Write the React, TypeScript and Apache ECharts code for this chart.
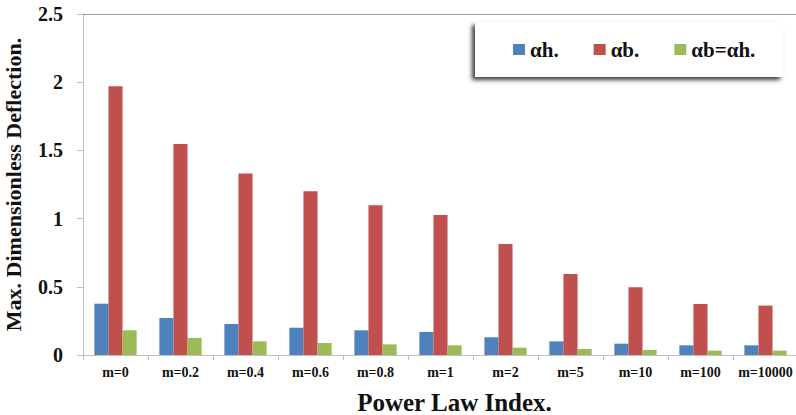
import React, { useEffect, useRef } from "react";
import * as echarts from "echarts";

const categories = ["m=0", "m=0.2", "m=0.4", "m=0.6", "m=0.8", "m=1", "m=2", "m=5", "m=10", "m=100", "m=10000"];
const alphaH = [0.376, 0.271, 0.227, 0.2, 0.181, 0.169, 0.13, 0.1, 0.083, 0.071, 0.071];
const alphaB = [1.97, 1.547, 1.33, 1.2, 1.097, 1.026, 0.814, 0.594, 0.496, 0.374, 0.362];
const alphaEqual = [0.181, 0.125, 0.1, 0.088, 0.078, 0.071, 0.054, 0.044, 0.037, 0.032, 0.032];
const seriesNames = ["\u03b1h.", "\u03b1b.", "\u03b1b=\u03b1h."];
const colors = ["#4F81BD", "#C0504D", "#9BBB59"];

const FONT = "Liberation Serif";

export default function App() {
  const ref = useRef<HTMLDivElement>(null);

  useEffect(() => {
    if (!ref.current) return;
    const chart = echarts.init(ref.current, undefined, { renderer: "svg" });
    const values = [alphaH, alphaB, alphaEqual];
    chart.setOption({
      animation: false,
      backgroundColor: "#ffffff",
      textStyle: { fontFamily: FONT },
      grid: { left: 83, right: -2, top: 14, bottom: 60, outerBoundsMode: "none", containLabel: false },
      legend: {
        left: 475,
        top: 22,
        data: seriesNames,
        icon: "rect",
        itemWidth: 12,
        itemHeight: 11,
        itemGap: 35,
        padding: [17, 28, 17, 38],
        backgroundColor: "#ffffff",
        borderWidth: 0,
        shadowColor: "rgba(0,0,0,0.75)",
        shadowBlur: 4,
        shadowOffsetX: -3,
        shadowOffsetY: 3,
        textStyle: { fontFamily: FONT, fontWeight: "bold", fontSize: 21, color: "#111" },
      },
      xAxis: [
        {
          type: "category",
          data: categories,
          name: "Power Law Index.",
          nameLocation: "middle",
          nameGap: 35,
          nameTextStyle: { fontFamily: FONT, fontWeight: "bold", fontSize: 25, color: "#111", padding: [0, 0, 0, 28] },
          axisLine: { lineStyle: { color: "#BFBFBF", width: 1 } },
          axisTick: { show: true, length: 5, lineStyle: { color: "#BFBFBF" } },
          axisLabel: { fontFamily: FONT, fontWeight: "bold", fontSize: 14, color: "#111", margin: 10, interval: 0 },
        },
        {
          type: "category",
          position: "top",
          data: categories,
          axisLine: { lineStyle: { color: "#9a9a9a", width: 1 } },
          axisTick: { show: false },
          axisLabel: { show: false },
        },
      ],
      yAxis: {
        type: "value",
        min: 0,
        max: 2.5,
        interval: 0.5,
        name: "Max. Dimensionless Deflection.",
        nameLocation: "middle",
        nameGap: 59,
        nameTextStyle: { fontFamily: FONT, fontWeight: "bold", fontSize: 22, color: "#111" },
        axisLine: { show: true, lineStyle: { color: "#BFBFBF", width: 1 } },
        axisTick: { show: true, length: 6, lineStyle: { color: "#BFBFBF" } },
        splitLine: { show: false },
        axisLabel: {
          fontFamily: FONT,
          fontWeight: "bold",
          fontSize: 20,
          color: "#111",
          margin: 20,
          formatter: (v: number) => String(v),
        },
      },
      series: seriesNames.map((name, i) => ({
        name,
        type: "bar",
        data: values[i],
        barGap: "0%",
        barCategoryGap: "35%",
        itemStyle: { color: colors[i] },
      })),
    });
    return () => chart.dispose();
  }, []);

  return <div ref={ref} style={{ position: "fixed", left: 0, top: 0, width: 796, height: 415 }} />;
}
